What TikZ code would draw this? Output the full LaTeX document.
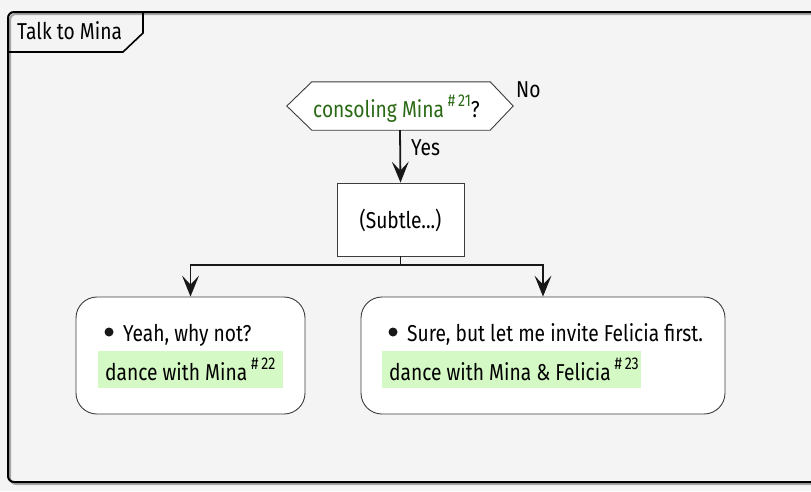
\documentclass[tikz,border=0pt]{standalone}
\usepackage{fontspec}
\setmainfont{Fira Sans}[FakeStretch=0.835]
\usetikzlibrary{arrows.meta,calc}
\definecolor{bg}{RGB}{244,244,244}
\definecolor{ink}{RGB}{24,24,24}
\definecolor{boxline}{RGB}{60,60,60}
\definecolor{dgreen}{RGB}{42,105,20}
\definecolor{hl}{RGB}{212,249,196}
\newcommand{\sref}[1]{\raisebox{11pt}{\fontsize{17}{17}\selectfont\#\,#1}}
\tikzset{
  bigtip/.tip={Stealth[length=21pt, width=17pt, inset=9pt, line width=0pt]},
  txt/.style={anchor=base west, inner sep=0pt, font=\fontsize{23}{26}\selectfont},
  rbox/.style={draw=boxline, fill=white, line width=0.9pt, rounded corners=21pt, inner sep=0pt},
  sqbox/.style={draw=boxline, fill=white, line width=0.9pt, inner sep=0pt},
  arr/.style={draw=ink, line width=1.8pt, arrows={-bigtip}},
  hlbox/.style={fill=hl, draw=none},
  bul/.style={circle, fill=ink, inner sep=0pt, minimum size=9pt}
}
\begin{document}
\begin{tikzpicture}[x=1pt,y=-1pt]
\useasboundingbox (0,0) rectangle (811,491);
\clip (0,0) rectangle (811,491);
\fill[bg] (0,0) rectangle (811,491);
% frame with shadow
\draw[black!35, line width=2pt, rounded corners=6pt] (10,14) rectangle (832,484);
\draw[black, line width=2pt, rounded corners=6pt] (8,12) rectangle (830,482);
% tab
\draw[black, line width=1.6pt] (8,52) -- (123,52) -- (143,33) -- (143,12);
\node[txt] (title) at (17,39) {Talk to Mina};
% decision
\node[minimum width=226pt, minimum height=48pt, inner sep=0pt] (dec) at (400,106) {};
\draw[sqbox] (dec.west) -- ($(dec.north west)+(25,0)$) -- ($(dec.north east)+(-23,0)$) -- (dec.east) -- ($(dec.south east)+(-23,0)$) -- ($(dec.south west)+(25,0)$) -- cycle;
\node[txt] (dectext) at (313,117) {\textcolor{dgreen}{consoling Mina\,\sref{21}}?};
\node[txt] (no) at (516,97) {No};
% subtle box
\node[sqbox, minimum width=127pt, minimum height=73pt] (sub) at (400.5,219.5) {};
\node[txt, anchor=base] (subtext) at (400.5,228) {(Subtle...)};
\draw[arr] (dec.south) -- (sub.north);
\node[txt] (yes) at (411,155) {Yes};
% option boxes
\node[rbox, minimum width=229pt, minimum height=117pt] (l) at (190.5,355.5) {};
\node[rbox, minimum width=364pt, minimum height=117pt] (r) at (543,355.5) {};
\coordinate (split) at (400.5,265);
\draw[arr] (sub.south) -- (split) -| (l.north);
\draw[arr] (split) -| (r.north);
% left content
\node[bul] (lb) at (109,332) {};
\node[txt] (lt) at (123,341) {Yeah, why not?};
\fill[hlbox] (98,351) rectangle (283,388);
\node[txt] (la) at (105,380) {dance with Mina\,\sref{22}};
% right content
\node[bul] (rb) at (393,332) {};
\node[txt] (rt) at (407,341) {Sure, but let me invite Felicia first.};
\fill[hlbox] (382,351) rectangle (641,388);
\node[txt] (ra) at (389,380) {dance with Mina \& Felicia\,\sref{23}};
\end{tikzpicture}
\end{document}
